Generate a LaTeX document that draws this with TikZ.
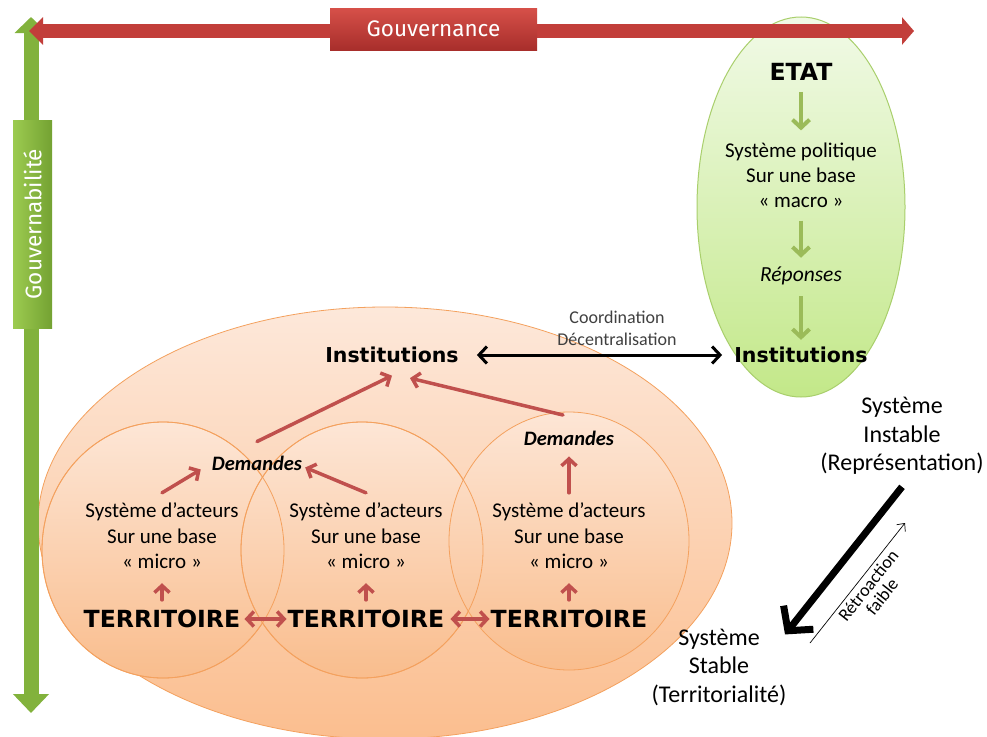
\documentclass[tikz,border=0pt]{standalone}
\usepackage{fontspec}
\setmainfont{Carlito}
\newfontfamily\heavy{DejaVu Sans}
\newfontfamily\comic{Fira Sans}
\usetikzlibrary{arrows.meta,shapes.geometric}
\definecolor{redarrow}{HTML}{C0504D}
\definecolor{redbar}{HTML}{C23E3A}
\definecolor{redtop}{HTML}{D65049}
\definecolor{redbot}{HTML}{A82E2B}
\definecolor{greenbar}{HTML}{82B23C}
\definecolor{greenl}{HTML}{9CCB50}
\definecolor{greenr}{HTML}{74A232}
\definecolor{garrow}{HTML}{9BBB59}
\definecolor{gborder}{HTML}{A9CF6C}
\definecolor{gtop}{HTML}{F1FAE7}
\definecolor{gbot}{HTML}{C3E889}
\definecolor{obord}{HTML}{F4A15E}
\definecolor{otop}{HTML}{FDE8DA}
\definecolor{obot}{HTML}{FBBE8F}
\definecolor{ctop}{HTML}{FDE6D6}
\definecolor{cbot}{HTML}{F9BD8D}
\definecolor{graytxt}{HTML}{404040}
\begin{document}
\begin{tikzpicture}[x=1pt,y=-1pt,
  txt/.style={inner sep=0pt, align=center, font=\fontsize{21}{25.5}\selectfont},
  heavytxt/.style={inner sep=0pt, font=\heavy\bfseries\fontsize{23.6}{28}\selectfont},
  insttxt/.style={inner sep=0pt, font=\heavy\bfseries\fontsize{20.5}{24}\selectfont},
  demtxt/.style={inner sep=0pt, font=\bfseries\itshape\fontsize{20.5}{24}\selectfont},
  redarr/.style={draw=redarrow, line width=3.5pt, line cap=round, -{Straight Barb[length=7pt,width=15pt]}},
  reddbl/.style={draw=redarrow, line width=3.5pt, {Straight Barb[length=7pt,width=15pt]}-{Straight Barb[length=7pt,width=15pt]}},
  grarr/.style={draw=garrow, line width=4pt, -{Straight Barb[length=8pt,width=17pt]}},
  blkdbl/.style={draw=black, line width=3pt, {Straight Barb[length=8pt,width=17pt]}-{Straight Barb[length=8pt,width=17pt]}},
  bigblk/.style={draw=black, line width=7pt, -{Straight Barb[length=17pt,width=38pt]}},
  thinarr/.style={draw=black, line width=0.7pt, -{Straight Barb[length=6pt,width=11pt]}},
  circ/.style={ellipse, inner sep=0pt, top color=ctop, bottom color=cbot, draw=obord, line width=0.8pt}
]
\clip (0,0) rectangle (987,736);
\fill[white] (0,0) rectangle (987,736);

% State ellipse
\node[ellipse, draw=gborder, line width=1pt, top color=gtop, bottom color=gbot,
      minimum width=208pt, minimum height=380pt, inner sep=0pt] (stateell) at (801,207) {};

% Territorial ellipse and circles
\node[ellipse, draw=obord, line width=0.8pt, top color=otop, bottom color=obot,
      minimum width=694pt, minimum height=432pt, inner sep=0pt] (terrell) at (385,523) {};
\node[circ, minimum width=242pt, minimum height=256pt] (c1) at (163,550) {};
\node[circ, minimum width=242pt, minimum height=256pt] (c2) at (362,550) {};
\node[circ, minimum width=240pt, minimum height=258pt] (c3) at (569,541) {};
\draw[obord, line width=0.8pt] (c1.center) ellipse [x radius=121pt, y radius=128pt];
\draw[obord, line width=0.8pt] (c2.center) ellipse [x radius=121pt, y radius=128pt];

% State texts
\node[heavytxt] (etat) at (801,72) {ETAT};
\node[txt, font=\fontsize{21}{25}\selectfont] (syspol) at (801,175) {Système politique\\Sur une base\\« macro »};
\node[txt, font=\itshape\fontsize{21.5}{25}\selectfont] (rep) at (801,276) {Réponses};
\node[insttxt] (instR) at (801,355) {Institutions};
\draw[grarr, shorten <=11pt, shorten >=12pt] (etat.south) -- (syspol.north);
\draw[grarr, shorten <=13pt, shorten >=9pt] (syspol.south) -- (rep.north);
\draw[grarr, shorten <=11pt, shorten >=7pt] (rep.south) -- (instR.north);

% Local texts
\node[insttxt] (instL) at (392,355) {Institutions};
\node[demtxt] (demL) at (257,463) {Demandes};
\node[demtxt] (demR) at (569,438) {Demandes};
\node[txt] (sysL) at (162,536) {Système d’acteurs\\Sur une base\\« micro »};
\node[txt] (sysM) at (366,536) {Système d’acteurs\\Sur une base\\« micro »};
\node[txt] (sysR) at (569,536) {Système d’acteurs\\Sur une base\\« micro »};
\node[heavytxt] (terrL) at (162,619) {TERRITOIRE};
\node[heavytxt] (terrM) at (366,619) {TERRITOIRE};
\node[heavytxt] (terrR) at (569,619) {TERRITOIRE};

\draw[redarr] ([yshift=14pt]demL.north) -- ([yshift=-12.5pt]instL.south);
\draw[redarr] ([xshift=-6pt,yshift=15.5pt]demR.north) -- ([xshift=18pt,yshift=-15pt]instL.south);
\draw[redarr] ([yshift=10pt]sysL.north) -- ([xshift=-11pt,yshift=1pt]demL.south west);
\draw[redarr] ([yshift=10pt]sysM.north) -- ([xshift=3pt,yshift=3pt]demL.south east);
\draw[redarr] ([yshift=10pt]sysR.north) -- ([yshift=-11pt]demR.south);
\draw[redarr] ([yshift=10pt]terrL.north) -- ([yshift=-14pt]sysL.south);
\draw[redarr] ([yshift=10pt]terrM.north) -- ([yshift=-14pt]sysM.south);
\draw[redarr] ([yshift=10pt]terrR.north) -- ([yshift=-14pt]sysR.south);
\draw[reddbl] ([xshift=4pt]terrL.east) -- ([xshift=-1pt]terrM.west);
\draw[reddbl] ([xshift=6pt]terrM.east) -- ([xshift=-1pt]terrR.west);

% Coordination
\draw[blkdbl] ([xshift=18pt]instL.east) -- ([xshift=-12pt]instR.west);
\node[txt, text=graytxt, font=\fontsize{18}{22}\selectfont] (coord) at (617,328) {Coordination\\Décentralisation};

% Stability
\node[txt, font=\fontsize{24}{28.5}\selectfont] (instable) at (902,436) {Système\\Instable\\(Représentation)};
\node[txt, font=\fontsize{24}{28.5}\selectfont] (stable) at (719,667) {Système\\Stable\\(Territorialité)};
\draw[bigblk] ([yshift=-12pt]instable.south) -- ([xshift=66pt,yshift=-6pt]stable.north);
\coordinate (rS) at (810,643);
\coordinate (rE) at (905,523);
\draw[thinarr] (rS) -- (rE);
\node[txt, rotate=51.6, font=\fontsize{18}{17.5}\selectfont] (retro) at (875,591) {Rétroaction\\faible};

% Axes
\coordinate (vT) at (31,17);
\coordinate (vB) at (31,713);
\draw[greenbar, line width=15pt, {Triangle[length=16pt,width=32pt]}-{Triangle[length=19pt,width=35pt]}] (vT) -- (vB);
\coordinate (hL) at (29,31);
\coordinate (hR) at (914,31);
\draw[redbar, line width=14pt, {Triangle[length=14pt,width=27pt]}-{Triangle[length=12pt,width=27pt]}] (hL) -- (hR);
\node[top color=redtop, bottom color=redbot, minimum width=207pt, minimum height=42pt, inner sep=0pt,
      text=white, font=\comic\fontsize{22.5}{26}\selectfont] (gouv) at (433.5,29) {Gouvernance};
\node[left color=greenl, right color=greenr, rotate=90, minimum width=208pt, minimum height=39pt, inner sep=0pt,
      text=white, font=\comic\fontsize{22.5}{26}\selectfont] (gouvb) at (32.5,224) {Gouvernabilité};
\end{tikzpicture}
\end{document}
